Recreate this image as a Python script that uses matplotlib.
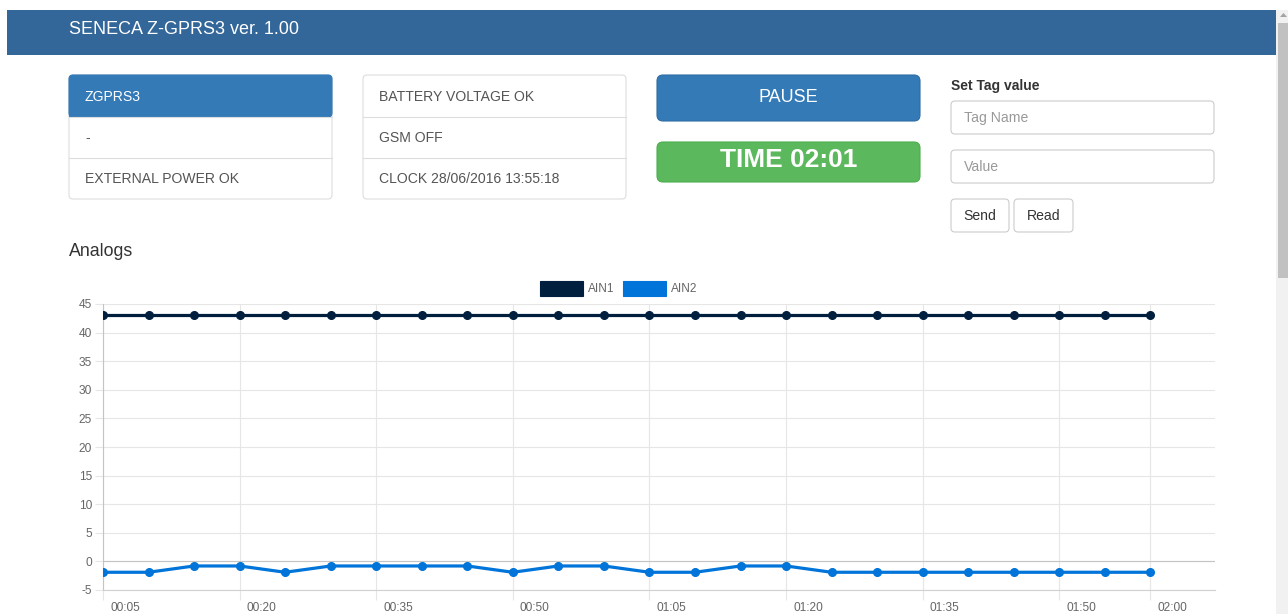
import matplotlib
matplotlib.use("Agg")
import matplotlib.pyplot as plt
from matplotlib.patches import FancyBboxPatch, Rectangle, Polygon
from matplotlib.transforms import ScaledTranslation

W, H = 1288, 614

# sample times (mm:ss) and analog readings
times = ["00:05", "00:10", "00:15", "00:20", "00:25", "00:30", "00:35", "00:40",
         "00:45", "00:50", "00:55", "01:00", "01:05", "01:10", "01:15", "01:20",
         "01:25", "01:30", "01:35", "01:40", "01:45", "01:50", "01:55", "02:00"]
ain1 = [43.1, 43.1, 43.1, 43.1, 43.1, 43.1, 43.1, 43.1, 43.1, 43.1, 43.1, 43.1,
        43.1, 43.1, 43.1, 43.1, 43.1, 43.1, 43.1, 43.1, 43.1, 43.1, 43.1, 43.1]
ain2 = [-1.9, -1.9, -0.8, -0.8, -1.9, -0.8, -0.8, -0.8, -0.8, -1.9, -0.8, -0.8,
        -1.9, -1.9, -0.8, -0.8, -1.9, -1.9, -1.9, -1.9, -1.9, -1.9, -1.9, -1.9]
series_names = ["AIN1", "AIN2"]
series_colors = ["#001F3F", "#0074D9"]
x_tick_labels = ["00:05", "00:20", "00:35", "00:50", "01:05", "01:20", "01:35", "01:50", "02:00"]
y_ticks = [-5, 0, 5, 10, 15, 20, 25, 30, 35, 40, 45]

status_left = ["ZGPRS3", "-", "EXTERNAL POWER OK"]
status_mid = ["BATTERY VOLTAGE OK", "GSM OFF", "CLOCK 28/06/2016 13:55:18"]

plt.rcParams["font.family"] = ["Liberation Sans", "DejaVu Sans"]
plt.rcParams["axes.unicode_minus"] = False


def to_sec(s):
    m, sec = s.split(":")
    return int(m) * 60 + int(sec)


def box(ax, x0, y0, x1, y1, face, edge="none", r=4, lw=0.8, z=1):
    p = FancyBboxPatch((x0, y0), x1 - x0, y1 - y0,
                       boxstyle=f"round,pad=0,rounding_size={r}",
                       fc=face, ec=edge, lw=lw, zorder=z)
    ax.add_patch(p)


fig = plt.figure(figsize=(W / 100, H / 100), dpi=100)

# page (header, panels, form) drawn in pixel coordinates
ui = fig.add_axes([0, 0, 1, 1])
ui.set_xlim(0, W)
ui.set_ylim(H, 0)
ui.axis("off")

ui.add_patch(Rectangle((7, 10), 1269, 45, fc="#336699", ec="none"))
ui.text(69, 30, "SENECA Z-GPRS3 ver. 1.00", color="white", fontsize=13, va="center")

# status panels
for x0, x1, rows in [(69, 332, status_left), (363, 626, status_mid)]:
    box(ui, x0, 75, x1, 199, "white", "#dddddd")
    if rows is status_left:
        box(ui, x0, 75, x1, 117, "#337ab7", "#337ab7", z=2)
        ui.add_patch(Rectangle((x0 + 0.5, 100), x1 - x0 - 1, 17, fc="#337ab7", ec="none", zorder=2))
    for yl in (117, 158):
        ui.plot([x0, x1], [yl, yl], color="#dddddd", lw=0.8, zorder=3)
    for i, t in enumerate(rows):
        c = "white" if (rows is status_left and i == 0) else "#555555"
        ui.text(x0 + 16, 97 + 41 * i, t, color=c, fontsize=10.1, va="center", zorder=4)

box(ui, 657, 75, 920, 121, "#337ab7", "#2e6da4", r=6)
ui.text(788.5, 98, "PAUSE", color="white", fontsize=13, ha="center", va="center")
box(ui, 657, 142, 920, 182, "#5cb85c", "#4cae4c", r=6)
ui.text(788.5, 160, "TIME 02:01", color="white", fontsize=19, fontweight="bold",
        ha="center", va="center")

ui.text(951, 86, "Set Tag value", color="#333333", fontsize=10, fontweight="bold", va="center")
box(ui, 951, 101, 1214, 134, "white", "#cccccc")
ui.text(964, 118, "Tag Name", color="#999999", fontsize=10.1, va="center")
box(ui, 951, 150, 1214, 183, "white", "#cccccc")
ui.text(964, 167, "Value", color="#999999", fontsize=10.1, va="center")
box(ui, 951, 199, 1009, 232, "white", "#cccccc")
ui.text(980, 216, "Send", color="#333333", fontsize=10.1, ha="center", va="center")
box(ui, 1014, 199, 1073, 232, "white", "#cccccc")
ui.text(1043.5, 216, "Read", color="#333333", fontsize=10.1, ha="center", va="center")

ui.text(69, 252, "Analogs", color="#333333", fontsize=12.8, va="center")

# legend boxes
for (bx, name, col) in zip([540, 623], series_names, series_colors):
    ui.add_patch(Rectangle((bx, 281), 43, 15, fc=col, ec=col, lw=0.8))
    ui.text(bx + 48, 289, name, color="#666666", fontsize=8.6, va="center")

# scrollbar
ui.add_patch(Rectangle((1276, 10), 12, H - 10, fc="#f1f1f1", ec="none"))
ui.add_patch(Rectangle((1278, 23), 10, 255, fc="#c1c1c1", ec="none"))
ui.add_patch(Polygon([[1280, 17], [1283.5, 13], [1287, 17]], closed=True, fc="#a3a3a3", ec="none"))

# chart
ax = fig.add_axes([103 / W, 1 - 590 / H, 1112 / W, 286 / H])
secs = [to_sec(t) for t in times]
for vals, col in zip([ain1, ain2], series_colors):
    ax.plot(secs, vals, color=col, lw=2.3, marker="o", ms=5.5, zorder=3)

ax.set_xlim(5, 127.1)
ax.set_ylim(-5, 45)
ax.set_yticks(y_ticks)
ax.set_xticks([to_sec(t) for t in x_tick_labels])
ax.set_xticklabels(x_tick_labels)
ax.grid(True, color="#e6e6e6", lw=0.8)
ax.axhline(0, color="#c4c4c4", lw=0.8, zorder=1)
ax.set_axisbelow(True)
for s in ("top", "right"):
    ax.spines[s].set_visible(False)
ax.spines["left"].set_color("#c4c4c4")
ax.spines["bottom"].set_color("#d0d0d0")
ax.spines["left"].set_linewidth(0.8)
ax.spines["bottom"].set_linewidth(0.8)
ax.tick_params(axis="y", length=5.8, width=0.8, color="#e6e6e6", pad=2.2,
               labelsize=8.6, labelcolor="#666666")
ax.tick_params(axis="x", length=7.2, width=0.8, color="#e6e6e6", pad=1.5,
               labelsize=8.6, labelcolor="#666666")
shift = ScaledTranslation(0.22, 0, fig.dpi_scale_trans)
for lab in ax.get_xticklabels():
    lab.set_transform(lab.get_transform() + shift)

fig.savefig("out.png", dpi=100)
